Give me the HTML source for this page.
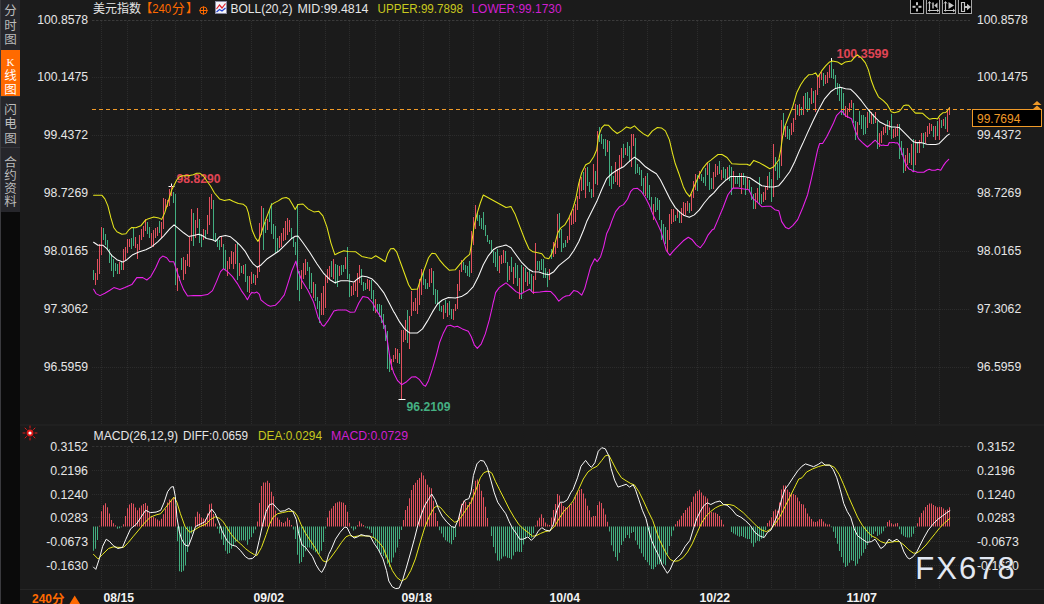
<!DOCTYPE html>
<html><head><meta charset="utf-8"><title>chart</title>
<style>html,body{margin:0;padding:0;background:#1b1b1b;width:1044px;height:604px;overflow:hidden}svg{display:block}text{font-family:"Liberation Sans",sans-serif}text.cjk{font-family:"Liberation Sans","Noto Sans CJK SC",sans-serif}</style>
</head><body>
<svg width="1044" height="604" viewBox="0 0 1044 604" font-family="Liberation Sans, sans-serif" shape-rendering="auto">
<rect width="1044" height="604" fill="#1b1b1b"/>
<rect x="20" y="590" width="1024" height="14" fill="#191919"/>
<rect x="0" y="0" width="20" height="604" fill="#0a0a0a"/>
<rect x="0" y="0" width="1" height="604" fill="#3a3a3e"/>
<rect x="1" y="0" width="19" height="212" fill="#26262b"/>
<rect x="1" y="50" width="19" height="46" fill="#ff6a00"/>
<rect x="1" y="147" width="19" height="1" fill="#34343a"/>
<rect x="1" y="96" width="19" height="1" fill="#34343a"/>
<text class="cjk" x="4.25" y="15.25" fill="#bcbcbc" font-size="12.5" text-anchor="start">分</text>
<text class="cjk" x="4.25" y="29.75" fill="#bcbcbc" font-size="12.5" text-anchor="start">时</text>
<text class="cjk" x="4.25" y="44.25" fill="#bcbcbc" font-size="12.5" text-anchor="start">图</text>
<text x="10.5" y="65.5" fill="#ffffff" font-size="11" text-anchor="middle" font-weight="normal" style="font-family:'Liberation Serif',serif">K</text>
<text class="cjk" x="4.25" y="79.75" fill="#ffffff" font-size="12.5" text-anchor="start">线</text>
<text class="cjk" x="4.25" y="93.75" fill="#ffffff" font-size="12.5" text-anchor="start">图</text>
<text class="cjk" x="4.25" y="113.75" fill="#bcbcbc" font-size="12.5" text-anchor="start">闪</text>
<text class="cjk" x="4.25" y="128.25" fill="#bcbcbc" font-size="12.5" text-anchor="start">电</text>
<text class="cjk" x="4.25" y="142.75" fill="#bcbcbc" font-size="12.5" text-anchor="start">图</text>
<text class="cjk" x="4.25" y="166.75" fill="#bcbcbc" font-size="12.5" text-anchor="start">合</text>
<text class="cjk" x="4.25" y="179.75" fill="#bcbcbc" font-size="12.5" text-anchor="start">约</text>
<text class="cjk" x="4.25" y="193.25" fill="#bcbcbc" font-size="12.5" text-anchor="start">资</text>
<text class="cjk" x="4.25" y="206.25" fill="#bcbcbc" font-size="12.5" text-anchor="start">料</text>
<path d="M92 20.5H970" stroke="#3a3a3a" stroke-dasharray="2.5 1.5" fill="none"/><path d="M92 77.5H970" stroke="#2c2c2c" stroke-dasharray="1 1" fill="none"/><path d="M92 135.5H970" stroke="#2c2c2c" stroke-dasharray="1 1" fill="none"/><path d="M92 193.5H970" stroke="#2c2c2c" stroke-dasharray="1 1" fill="none"/><path d="M92 251.5H970" stroke="#2c2c2c" stroke-dasharray="1 1" fill="none"/><path d="M92 309.5H970" stroke="#2c2c2c" stroke-dasharray="1 1" fill="none"/><path d="M92 367.5H970" stroke="#2c2c2c" stroke-dasharray="1 1" fill="none"/><path d="M101.5 21V424" stroke="#2c2c2c" stroke-dasharray="1 1" fill="none"/><path d="M101.5 447V590" stroke="#2c2c2c" stroke-dasharray="1 1" fill="none"/><path d="M127.5 21V424" stroke="#2c2c2c" stroke-dasharray="1 1" fill="none"/><path d="M127.5 447V590" stroke="#2c2c2c" stroke-dasharray="1 1" fill="none"/><path d="M151.5 21V424" stroke="#2c2c2c" stroke-dasharray="1 1" fill="none"/><path d="M151.5 447V590" stroke="#2c2c2c" stroke-dasharray="1 1" fill="none"/><path d="M175.5 21V424" stroke="#2c2c2c" stroke-dasharray="1 1" fill="none"/><path d="M175.5 447V590" stroke="#2c2c2c" stroke-dasharray="1 1" fill="none"/><path d="M201.5 21V424" stroke="#2c2c2c" stroke-dasharray="1 1" fill="none"/><path d="M201.5 447V590" stroke="#2c2c2c" stroke-dasharray="1 1" fill="none"/><path d="M225.5 21V424" stroke="#2c2c2c" stroke-dasharray="1 1" fill="none"/><path d="M225.5 447V590" stroke="#2c2c2c" stroke-dasharray="1 1" fill="none"/><path d="M251.5 21V424" stroke="#2c2c2c" stroke-dasharray="1 1" fill="none"/><path d="M251.5 447V590" stroke="#2c2c2c" stroke-dasharray="1 1" fill="none"/><path d="M275.5 21V424" stroke="#2c2c2c" stroke-dasharray="1 1" fill="none"/><path d="M275.5 447V590" stroke="#2c2c2c" stroke-dasharray="1 1" fill="none"/><path d="M299.5 21V424" stroke="#2c2c2c" stroke-dasharray="1 1" fill="none"/><path d="M299.5 447V590" stroke="#2c2c2c" stroke-dasharray="1 1" fill="none"/><path d="M325.5 21V424" stroke="#2c2c2c" stroke-dasharray="1 1" fill="none"/><path d="M325.5 447V590" stroke="#2c2c2c" stroke-dasharray="1 1" fill="none"/><path d="M349.5 21V424" stroke="#2c2c2c" stroke-dasharray="1 1" fill="none"/><path d="M349.5 447V590" stroke="#2c2c2c" stroke-dasharray="1 1" fill="none"/><path d="M375.5 21V424" stroke="#2c2c2c" stroke-dasharray="1 1" fill="none"/><path d="M375.5 447V590" stroke="#2c2c2c" stroke-dasharray="1 1" fill="none"/><path d="M399.5 21V424" stroke="#2c2c2c" stroke-dasharray="1 1" fill="none"/><path d="M399.5 447V590" stroke="#2c2c2c" stroke-dasharray="1 1" fill="none"/><path d="M423.5 21V424" stroke="#2c2c2c" stroke-dasharray="1 1" fill="none"/><path d="M423.5 447V590" stroke="#2c2c2c" stroke-dasharray="1 1" fill="none"/><path d="M449.5 21V424" stroke="#2c2c2c" stroke-dasharray="1 1" fill="none"/><path d="M449.5 447V590" stroke="#2c2c2c" stroke-dasharray="1 1" fill="none"/><path d="M473.5 21V424" stroke="#2c2c2c" stroke-dasharray="1 1" fill="none"/><path d="M473.5 447V590" stroke="#2c2c2c" stroke-dasharray="1 1" fill="none"/><path d="M499.5 21V424" stroke="#2c2c2c" stroke-dasharray="1 1" fill="none"/><path d="M499.5 447V590" stroke="#2c2c2c" stroke-dasharray="1 1" fill="none"/><path d="M523.5 21V424" stroke="#2c2c2c" stroke-dasharray="1 1" fill="none"/><path d="M523.5 447V590" stroke="#2c2c2c" stroke-dasharray="1 1" fill="none"/><path d="M547.5 21V424" stroke="#2c2c2c" stroke-dasharray="1 1" fill="none"/><path d="M547.5 447V590" stroke="#2c2c2c" stroke-dasharray="1 1" fill="none"/><path d="M573.5 21V424" stroke="#2c2c2c" stroke-dasharray="1 1" fill="none"/><path d="M573.5 447V590" stroke="#2c2c2c" stroke-dasharray="1 1" fill="none"/><path d="M597.5 21V424" stroke="#2c2c2c" stroke-dasharray="1 1" fill="none"/><path d="M597.5 447V590" stroke="#2c2c2c" stroke-dasharray="1 1" fill="none"/><path d="M623.5 21V424" stroke="#2c2c2c" stroke-dasharray="1 1" fill="none"/><path d="M623.5 447V590" stroke="#2c2c2c" stroke-dasharray="1 1" fill="none"/><path d="M647.5 21V424" stroke="#2c2c2c" stroke-dasharray="1 1" fill="none"/><path d="M647.5 447V590" stroke="#2c2c2c" stroke-dasharray="1 1" fill="none"/><path d="M671.5 21V424" stroke="#2c2c2c" stroke-dasharray="1 1" fill="none"/><path d="M671.5 447V590" stroke="#2c2c2c" stroke-dasharray="1 1" fill="none"/><path d="M697.5 21V424" stroke="#2c2c2c" stroke-dasharray="1 1" fill="none"/><path d="M697.5 447V590" stroke="#2c2c2c" stroke-dasharray="1 1" fill="none"/><path d="M721.5 21V424" stroke="#2c2c2c" stroke-dasharray="1 1" fill="none"/><path d="M721.5 447V590" stroke="#2c2c2c" stroke-dasharray="1 1" fill="none"/><path d="M747.5 21V424" stroke="#2c2c2c" stroke-dasharray="1 1" fill="none"/><path d="M747.5 447V590" stroke="#2c2c2c" stroke-dasharray="1 1" fill="none"/><path d="M771.5 21V424" stroke="#2c2c2c" stroke-dasharray="1 1" fill="none"/><path d="M771.5 447V590" stroke="#2c2c2c" stroke-dasharray="1 1" fill="none"/><path d="M795.5 21V424" stroke="#2c2c2c" stroke-dasharray="1 1" fill="none"/><path d="M795.5 447V590" stroke="#2c2c2c" stroke-dasharray="1 1" fill="none"/><path d="M819.5 21V424" stroke="#2c2c2c" stroke-dasharray="1 1" fill="none"/><path d="M819.5 447V590" stroke="#2c2c2c" stroke-dasharray="1 1" fill="none"/><path d="M843.5 21V424" stroke="#2c2c2c" stroke-dasharray="1 1" fill="none"/><path d="M843.5 447V590" stroke="#2c2c2c" stroke-dasharray="1 1" fill="none"/><path d="M867.5 21V424" stroke="#2c2c2c" stroke-dasharray="1 1" fill="none"/><path d="M867.5 447V590" stroke="#2c2c2c" stroke-dasharray="1 1" fill="none"/><path d="M891.5 21V424" stroke="#2c2c2c" stroke-dasharray="1 1" fill="none"/><path d="M891.5 447V590" stroke="#2c2c2c" stroke-dasharray="1 1" fill="none"/><path d="M915.5 21V424" stroke="#2c2c2c" stroke-dasharray="1 1" fill="none"/><path d="M915.5 447V590" stroke="#2c2c2c" stroke-dasharray="1 1" fill="none"/><path d="M939.5 21V424" stroke="#2c2c2c" stroke-dasharray="1 1" fill="none"/><path d="M939.5 447V590" stroke="#2c2c2c" stroke-dasharray="1 1" fill="none"/><path d="M92 446.5H970" stroke="#333333" stroke-dasharray="2.5 1.5" fill="none"/><path d="M92 470.5H970" stroke="#2c2c2c" stroke-dasharray="1 1" fill="none"/><path d="M92 494.5H970" stroke="#2c2c2c" stroke-dasharray="1 1" fill="none"/><path d="M92 517.5H970" stroke="#2c2c2c" stroke-dasharray="1 1" fill="none"/><path d="M92 541.5H970" stroke="#2c2c2c" stroke-dasharray="1 1" fill="none"/><path d="M92 565.5H970" stroke="#2c2c2c" stroke-dasharray="1 1" fill="none"/><path d="M20 425H1044" stroke="#232323" stroke-width="1.6" fill="none"/><path d="M20 589.5H1044" stroke="#262626" fill="none"/>
<text x="37.2" y="24.1" fill="#e6e6e6" font-size="12" text-anchor="start" font-weight="normal" textLength="50.8" lengthAdjust="spacingAndGlyphs">100.8578</text>
<text x="977" y="24.1" fill="#e6e6e6" font-size="12" text-anchor="start" font-weight="normal" textLength="50.8" lengthAdjust="spacingAndGlyphs">100.8578</text>
<text x="37.2" y="81.1" fill="#e6e6e6" font-size="12" text-anchor="start" font-weight="normal" textLength="50.8" lengthAdjust="spacingAndGlyphs">100.1475</text>
<text x="977" y="81.1" fill="#e6e6e6" font-size="12" text-anchor="start" font-weight="normal" textLength="50.8" lengthAdjust="spacingAndGlyphs">100.1475</text>
<text x="43.8" y="139.1" fill="#e6e6e6" font-size="12" text-anchor="start" font-weight="normal" textLength="44.2" lengthAdjust="spacingAndGlyphs">99.4372</text>
<text x="977" y="139.1" fill="#e6e6e6" font-size="12" text-anchor="start" font-weight="normal" textLength="44.2" lengthAdjust="spacingAndGlyphs">99.4372</text>
<text x="43.8" y="197.1" fill="#e6e6e6" font-size="12" text-anchor="start" font-weight="normal" textLength="44.2" lengthAdjust="spacingAndGlyphs">98.7269</text>
<text x="977" y="197.1" fill="#e6e6e6" font-size="12" text-anchor="start" font-weight="normal" textLength="44.2" lengthAdjust="spacingAndGlyphs">98.7269</text>
<text x="43.8" y="255.1" fill="#e6e6e6" font-size="12" text-anchor="start" font-weight="normal" textLength="44.2" lengthAdjust="spacingAndGlyphs">98.0165</text>
<text x="977" y="255.1" fill="#e6e6e6" font-size="12" text-anchor="start" font-weight="normal" textLength="44.2" lengthAdjust="spacingAndGlyphs">98.0165</text>
<text x="43.8" y="313.1" fill="#e6e6e6" font-size="12" text-anchor="start" font-weight="normal" textLength="44.2" lengthAdjust="spacingAndGlyphs">97.3062</text>
<text x="977" y="313.1" fill="#e6e6e6" font-size="12" text-anchor="start" font-weight="normal" textLength="44.2" lengthAdjust="spacingAndGlyphs">97.3062</text>
<text x="43.8" y="371.1" fill="#e6e6e6" font-size="12" text-anchor="start" font-weight="normal" textLength="44.2" lengthAdjust="spacingAndGlyphs">96.5959</text>
<text x="977" y="371.1" fill="#e6e6e6" font-size="12" text-anchor="start" font-weight="normal" textLength="44.2" lengthAdjust="spacingAndGlyphs">96.5959</text>
<text x="50.2" y="450.5" fill="#e6e6e6" font-size="12" text-anchor="start" font-weight="normal" textLength="37.8" lengthAdjust="spacingAndGlyphs">0.3152</text>
<text x="977" y="450.5" fill="#e6e6e6" font-size="12" text-anchor="start" font-weight="normal" textLength="37.8" lengthAdjust="spacingAndGlyphs">0.3152</text>
<text x="50.2" y="474.5" fill="#e6e6e6" font-size="12" text-anchor="start" font-weight="normal" textLength="37.8" lengthAdjust="spacingAndGlyphs">0.2196</text>
<text x="977" y="474.5" fill="#e6e6e6" font-size="12" text-anchor="start" font-weight="normal" textLength="37.8" lengthAdjust="spacingAndGlyphs">0.2196</text>
<text x="50.2" y="498.5" fill="#e6e6e6" font-size="12" text-anchor="start" font-weight="normal" textLength="37.8" lengthAdjust="spacingAndGlyphs">0.1240</text>
<text x="977" y="498.5" fill="#e6e6e6" font-size="12" text-anchor="start" font-weight="normal" textLength="37.8" lengthAdjust="spacingAndGlyphs">0.1240</text>
<text x="50.2" y="521.5" fill="#e6e6e6" font-size="12" text-anchor="start" font-weight="normal" textLength="37.8" lengthAdjust="spacingAndGlyphs">0.0283</text>
<text x="977" y="521.5" fill="#e6e6e6" font-size="12" text-anchor="start" font-weight="normal" textLength="37.8" lengthAdjust="spacingAndGlyphs">0.0283</text>
<text x="46.2" y="545.5" fill="#e6e6e6" font-size="12" text-anchor="start" font-weight="normal" textLength="41.8" lengthAdjust="spacingAndGlyphs">-0.0673</text>
<text x="977" y="545.5" fill="#e6e6e6" font-size="12" text-anchor="start" font-weight="normal" textLength="41.8" lengthAdjust="spacingAndGlyphs">-0.0673</text>
<text x="46.2" y="569.5" fill="#e6e6e6" font-size="12" text-anchor="start" font-weight="normal" textLength="41.8" lengthAdjust="spacingAndGlyphs">-0.1630</text>
<text x="977" y="569.5" fill="#e6e6e6" font-size="12" text-anchor="start" font-weight="normal" textLength="41.8" lengthAdjust="spacingAndGlyphs">-0.1630</text>
<text x="176.5" y="183" fill="#e04555" font-size="12" text-anchor="start" font-weight="bold" textLength="44" lengthAdjust="spacingAndGlyphs">98.8290</text>
<path d="M168.5 186.5H174.5M171.5 183.5V189.5" stroke="#ffffff" fill="none"/>
<text x="836.5" y="58" fill="#e04555" font-size="12" text-anchor="start" font-weight="bold" textLength="52" lengthAdjust="spacingAndGlyphs">100.3599</text>
<path d="M831.5 58V62" stroke="#ffffff" fill="none"/>
<text x="406.5" y="411" fill="#45b083" font-size="12" text-anchor="start" font-weight="bold" textLength="44" lengthAdjust="spacingAndGlyphs">96.2109</text>
<path d="M398.5 399.5H405.5M401.5 397V399.5" stroke="#ffffff" fill="none"/>
<path d="M93 270h1V280h-1ZM103 228h1V240h-1ZM105 234h1V245h-1ZM107 240h1V250h-1ZM109 249h1V263h-1ZM111 254h1V271h-1ZM113 259h1V277h-1ZM115 263h1V271h-1ZM117 264h1V274h-1ZM121 262h1V270h-1ZM131 238h1V249h-1ZM133 228h1V246h-1ZM147 222h1V234h-1ZM149 227h1V238h-1ZM159 221h1V233h-1ZM173 192h1V203h-1ZM175 194h1V285h-1ZM179 276h1V281h-1ZM181 258h1V270h-1ZM193 213h1V246h-1ZM199 219h1V243h-1ZM201 234h1V247h-1ZM205 230h1V239h-1ZM213 200h1V240h-1ZM215 233h1V242h-1ZM217 239h1V247h-1ZM219 240h1V250h-1ZM223 244h1V269h-1ZM225 250h1V270h-1ZM237 243h1V280h-1ZM241 266h1V273h-1ZM245 264h1V282h-1ZM247 276h1V292h-1ZM253 274h1V283h-1ZM263 208h1V250h-1ZM265 222h1V233h-1ZM269 210h1V222h-1ZM271 203h1V234h-1ZM273 224h1V239h-1ZM275 226h1V253h-1ZM277 238h1V252h-1ZM291 228h1V239h-1ZM293 238h1V247h-1ZM295 242h1V255h-1ZM297 204h1V290h-1ZM299 271h1V301h-1ZM307 262h1V271h-1ZM309 267h1V289h-1ZM311 273h1V293h-1ZM315 284h1V301h-1ZM317 297h1V309h-1ZM319 301h1V323h-1ZM331 261h1V277h-1ZM335 264h1V284h-1ZM337 265h1V287h-1ZM341 265h1V275h-1ZM343 265h1V272h-1ZM347 247h1V279h-1ZM349 274h1V297h-1ZM361 269h1V285h-1ZM363 282h1V291h-1ZM365 283h1V290h-1ZM371 280h1V299h-1ZM373 290h1V311h-1ZM377 304h1V312h-1ZM379 304h1V317h-1ZM381 305h1V323h-1ZM383 314h1V329h-1ZM385 325h1V341h-1ZM387 331h1V369h-1ZM389 354h1V372h-1ZM399 353h1V364h-1ZM407 310h1V343h-1ZM423 272h1V285h-1ZM425 279h1V289h-1ZM427 283h1V289h-1ZM433 271h1V295h-1ZM435 289h1V304h-1ZM437 290h1V305h-1ZM439 303h1V311h-1ZM441 306h1V312h-1ZM445 300h1V313h-1ZM449 301h1V315h-1ZM451 309h1V319h-1ZM463 262h1V270h-1ZM465 265h1V273h-1ZM467 266h1V276h-1ZM469 261h1V277h-1ZM477 213h1V221h-1ZM479 215h1V226h-1ZM481 218h1V229h-1ZM483 212h1V230h-1ZM485 225h1V236h-1ZM487 235h1V242h-1ZM489 240h1V244h-1ZM491 240h1V253h-1ZM493 251h1V263h-1ZM495 252h1V267h-1ZM497 249h1V271h-1ZM505 251h1V263h-1ZM507 262h1V282h-1ZM511 257h1V272h-1ZM515 263h1V278h-1ZM517 265h1V286h-1ZM521 265h1V299h-1ZM525 268h1V282h-1ZM529 270h1V284h-1ZM531 274h1V292h-1ZM537 261h1V270h-1ZM539 261h1V271h-1ZM541 259h1V270h-1ZM543 259h1V278h-1ZM545 268h1V278h-1ZM547 272h1V287h-1ZM551 249h1V259h-1ZM559 213h1V238h-1ZM561 229h1V252h-1ZM563 243h1V248h-1ZM565 240h1V247h-1ZM583 172h1V190h-1ZM587 167h1V186h-1ZM589 182h1V192h-1ZM591 189h1V198h-1ZM595 171h1V184h-1ZM599 127h1V142h-1ZM601 134h1V144h-1ZM603 139h1V149h-1ZM605 139h1V156h-1ZM609 141h1V186h-1ZM611 166h1V189h-1ZM613 176h1V184h-1ZM623 144h1V158h-1ZM627 142h1V156h-1ZM629 146h1V162h-1ZM635 138h1V174h-1ZM637 164h1V173h-1ZM639 167h1V175h-1ZM641 170h1V186h-1ZM643 178h1V194h-1ZM647 173h1V198h-1ZM649 185h1V200h-1ZM651 197h1V212h-1ZM655 197h1V212h-1ZM657 198h1V210h-1ZM659 200h1V220h-1ZM661 220h1V240h-1ZM663 224h1V240h-1ZM665 227h1V244h-1ZM675 215h1V221h-1ZM679 211h1V223h-1ZM689 203h1V213h-1ZM697 175h1V191h-1ZM701 174h1V181h-1ZM703 177h1V183h-1ZM705 168h1V186h-1ZM709 163h1V190h-1ZM711 178h1V189h-1ZM719 161h1V174h-1ZM723 167h1V178h-1ZM725 169h1V180h-1ZM729 165h1V181h-1ZM731 167h1V195h-1ZM735 176h1V184h-1ZM737 177h1V184h-1ZM739 173h1V187h-1ZM743 173h1V185h-1ZM745 178h1V195h-1ZM749 180h1V192h-1ZM751 187h1V200h-1ZM753 194h1V209h-1ZM759 177h1V204h-1ZM761 194h1V204h-1ZM769 172h1V188h-1ZM771 179h1V202h-1ZM775 157h1V171h-1ZM777 163h1V180h-1ZM779 159h1V178h-1ZM783 113h1V135h-1ZM787 126h1V139h-1ZM789 129h1V140h-1ZM797 105h1V115h-1ZM801 107h1V115h-1ZM805 93h1V109h-1ZM807 92h1V112h-1ZM809 98h1V109h-1ZM813 91h1V103h-1ZM823 73h1V86h-1ZM831 61h1V78h-1ZM833 69h1V79h-1ZM835 75h1V88h-1ZM837 83h1V95h-1ZM839 84h1V101h-1ZM841 88h1V115h-1ZM843 93h1V115h-1ZM853 103h1V123h-1ZM855 121h1V140h-1ZM859 111h1V125h-1ZM861 115h1V129h-1ZM863 115h1V135h-1ZM865 117h1V134h-1ZM869 110h1V123h-1ZM873 114h1V124h-1ZM877 121h1V149h-1ZM887 120h1V135h-1ZM891 114h1V139h-1ZM899 124h1V159h-1ZM901 141h1V155h-1ZM903 148h1V173h-1ZM909 153h1V163h-1ZM913 139h1V172h-1ZM917 143h1V153h-1ZM923 133h1V148h-1ZM933 126h1V137h-1ZM937 121h1V136h-1ZM941 120h1V128h-1ZM945 117h1V129h-1Z" fill="#42ae80" shape-rendering="crispEdges"/>
<path d="M95 273h1V285h-1ZM97 259h1V280h-1ZM99 244h1V274h-1ZM101 227h1V255h-1ZM119 262h1V274h-1ZM123 249h1V270h-1ZM125 247h1V260h-1ZM127 239h1V253h-1ZM129 239h1V247h-1ZM135 237h1V248h-1ZM137 244h1V259h-1ZM139 235h1V250h-1ZM141 229h1V240h-1ZM143 226h1V237h-1ZM145 219h1V231h-1ZM151 233h1V246h-1ZM153 230h1V247h-1ZM155 228h1V238h-1ZM157 227h1V236h-1ZM161 222h1V238h-1ZM163 198h1V229h-1ZM165 199h1V211h-1ZM167 200h1V207h-1ZM169 189h1V206h-1ZM171 186h1V196h-1ZM177 268h1V291h-1ZM183 257h1V280h-1ZM185 260h1V274h-1ZM187 254h1V266h-1ZM189 237h1V267h-1ZM191 209h1V241h-1ZM195 220h1V238h-1ZM197 208h1V228h-1ZM203 229h1V240h-1ZM207 215h1V234h-1ZM209 197h1V225h-1ZM211 194h1V209h-1ZM221 236h1V247h-1ZM227 261h1V276h-1ZM229 257h1V269h-1ZM231 251h1V264h-1ZM233 252h1V269h-1ZM235 244h1V264h-1ZM239 263h1V276h-1ZM243 265h1V274h-1ZM249 276h1V293h-1ZM251 272h1V284h-1ZM255 275h1V285h-1ZM257 266h1V278h-1ZM259 223h1V272h-1ZM261 206h1V235h-1ZM267 219h1V230h-1ZM279 236h1V248h-1ZM281 233h1V247h-1ZM283 228h1V241h-1ZM285 221h1V240h-1ZM287 218h1V235h-1ZM289 220h1V232h-1ZM301 270h1V289h-1ZM303 263h1V279h-1ZM305 259h1V275h-1ZM313 282h1V298h-1ZM321 293h1V315h-1ZM323 286h1V315h-1ZM325 276h1V308h-1ZM327 269h1V283h-1ZM329 266h1V279h-1ZM333 259h1V279h-1ZM339 266h1V276h-1ZM345 257h1V269h-1ZM351 286h1V296h-1ZM353 283h1V295h-1ZM355 280h1V291h-1ZM357 273h1V297h-1ZM359 265h1V283h-1ZM367 279h1V289h-1ZM369 280h1V291h-1ZM375 299h1V313h-1ZM391 359h1V370h-1ZM393 355h1V362h-1ZM395 348h1V359h-1ZM397 349h1V363h-1ZM401 330h1V399h-1ZM403 330h1V342h-1ZM405 320h1V340h-1ZM409 316h1V349h-1ZM411 291h1V316h-1ZM413 302h1V311h-1ZM415 298h1V311h-1ZM417 289h1V314h-1ZM419 279h1V305h-1ZM421 269h1V295h-1ZM429 269h1V287h-1ZM431 268h1V283h-1ZM443 305h1V319h-1ZM447 303h1V317h-1ZM453 309h1V320h-1ZM455 304h1V311h-1ZM457 284h1V309h-1ZM459 270h1V291h-1ZM461 260h1V272h-1ZM471 231h1V273h-1ZM473 217h1V245h-1ZM475 205h1V229h-1ZM499 256h1V273h-1ZM501 255h1V264h-1ZM503 250h1V263h-1ZM509 266h1V280h-1ZM513 267h1V284h-1ZM519 278h1V299h-1ZM523 267h1V292h-1ZM527 272h1V286h-1ZM533 276h1V294h-1ZM535 243h1V280h-1ZM549 269h1V280h-1ZM553 242h1V257h-1ZM555 243h1V254h-1ZM557 214h1V248h-1ZM567 236h1V243h-1ZM569 217h1V240h-1ZM571 212h1V225h-1ZM573 209h1V224h-1ZM575 204h1V222h-1ZM577 196h1V210h-1ZM579 179h1V199h-1ZM581 177h1V191h-1ZM585 168h1V198h-1ZM593 164h1V197h-1ZM597 131h1V185h-1ZM607 140h1V152h-1ZM615 162h1V182h-1ZM617 170h1V185h-1ZM619 155h1V187h-1ZM621 148h1V168h-1ZM625 148h1V155h-1ZM631 134h1V167h-1ZM633 134h1V146h-1ZM645 176h1V196h-1ZM653 204h1V220h-1ZM667 230h1V252h-1ZM669 214h1V240h-1ZM671 209h1V224h-1ZM673 209h1V222h-1ZM677 210h1V218h-1ZM681 208h1V223h-1ZM683 202h1V216h-1ZM685 203h1V215h-1ZM687 201h1V211h-1ZM691 194h1V211h-1ZM693 181h1V198h-1ZM695 174h1V190h-1ZM699 171h1V179h-1ZM707 162h1V175h-1ZM713 172h1V189h-1ZM715 164h1V177h-1ZM717 166h1V175h-1ZM721 170h1V180h-1ZM727 167h1V180h-1ZM733 171h1V188h-1ZM741 173h1V194h-1ZM747 177h1V190h-1ZM755 193h1V209h-1ZM757 188h1V202h-1ZM763 192h1V202h-1ZM765 187h1V200h-1ZM767 176h1V190h-1ZM773 144h1V197h-1ZM781 120h1V166h-1ZM785 126h1V137h-1ZM791 123h1V135h-1ZM793 118h1V132h-1ZM795 104h1V120h-1ZM799 104h1V116h-1ZM803 96h1V115h-1ZM811 88h1V104h-1ZM815 90h1V112h-1ZM817 76h1V95h-1ZM819 74h1V88h-1ZM821 72h1V80h-1ZM825 75h1V84h-1ZM827 72h1V83h-1ZM829 65h1V78h-1ZM845 106h1V117h-1ZM847 108h1V118h-1ZM849 103h1V112h-1ZM851 100h1V108h-1ZM857 122h1V135h-1ZM867 112h1V128h-1ZM871 112h1V124h-1ZM875 112h1V123h-1ZM879 133h1V147h-1ZM881 131h1V143h-1ZM883 127h1V135h-1ZM885 125h1V133h-1ZM889 121h1V130h-1ZM893 129h1V138h-1ZM895 128h1V137h-1ZM897 124h1V136h-1ZM905 155h1V171h-1ZM907 148h1V165h-1ZM911 144h1V165h-1ZM915 140h1V165h-1ZM919 140h1V153h-1ZM921 133h1V143h-1ZM925 132h1V143h-1ZM927 126h1V137h-1ZM929 123h1V134h-1ZM931 124h1V131h-1ZM935 126h1V140h-1ZM939 118h1V140h-1ZM943 119h1V126h-1ZM947 109h1V132h-1ZM949 107h1V115h-1Z" fill="#e2505e" shape-rendering="crispEdges"/>
<path d="M93.6 289.2L96.0 293.6L100.0 295.6L104.9 293.2L109.9 290.2L113.9 287.6L119.9 289.6L124.9 287.6L131.8 284.6L136.8 277.6L142.8 277.6L146.8 280.0L150.8 276.6L155.7 267.7L159.7 258.7L162.7 256.1L166.7 257.7L169.7 261.7L173.7 261.7L176.7 270.7L180.7 282.6L183.6 289.6L187.6 296.0L193.6 295.6L201.6 295.6L207.5 294.6L212.5 290.6L216.5 281.6L220.5 271.6L223.5 268.7L227.5 271.6L232.5 276.6L237.4 283.6L241.4 290.6L245.2 296.0L247.4 299.7L249.9 294.9L251.9 292.4L254.4 292.9L256.9 292.1L259.4 294.4L260.9 299.8L263.9 302.3L267.9 305.3L270.3 306.3L275.3 305.3L279.8 300.8L284.3 294.9L287.8 283.9L291.8 271.0L295.9 261.1L298.1 271.3L302.0 280.7L308.0 290.6L312.9 300.6L313.9 303.0L317.9 316.9L321.9 324.9L323.9 326.3L327.9 320.9L333.9 310.9L337.8 309.9L345.8 309.9L350.2 312.3L354.8 311.9L358.8 303.0L362.8 296.6L367.7 297.4L372.7 303.0L376.7 310.9L380.7 316.9L384.7 326.9L387.7 342.8L390.6 362.7L393.6 372.7L397.6 380.7L401.6 384.7L406.6 381.7L411.6 377.1L415.5 376.7L419.5 379.7L423.5 385.1L425.5 386.2L428.5 380.7L432.5 368.7L436.5 354.8L439.5 342.8L443.4 332.9L447.0 325.9L450.4 325.3L454.4 326.9L457.4 326.3L462.4 328.9L468.3 331.3L471.3 336.8L474.3 344.8L477.3 348.4L481.3 343.8L485.3 333.9L489.3 319.9L492.3 307.0L493.2 302.6L494.2 299.0L495.6 292.6L499.2 287.6L503.2 284.7L506.0 282.9L511.0 287.0L516.0 291.6L520.9 294.0L524.9 291.6L529.5 289.2L532.9 292.6L539.9 292.0L545.8 291.2L550.8 291.6L554.8 295.6L558.8 301.2L562.8 297.6L565.8 296.0L569.4 295.6L573.7 290.6L577.7 291.6L581.7 295.2L584.7 288.6L587.7 277.7L590.7 266.7L594.7 258.7L597.2 261.7L600.6 256.7L603.6 246.8L606.6 233.8L609.6 227.5L611.6 221.6L615.6 211.6L619.6 206.6L623.5 204.6L627.5 199.3L630.5 191.7L633.5 188.7L637.5 188.3L641.5 191.7L645.5 197.7L649.4 205.6L653.4 215.6L657.4 223.6L660.7 230.7L663.4 239.8L666.4 250.8L669.8 255.3L673.4 250.8L678.3 245.8L683.3 240.8L688.3 237.2L692.3 239.8L696.3 244.8L700.3 247.8L704.2 242.8L708.2 234.8L712.2 229.8L714.0 229.0L718.0 219.6L723.0 207.7L727.9 194.7L732.9 188.1L737.9 188.1L743.9 188.9L748.9 189.7L752.9 198.7L756.8 201.7L761.8 206.7L766.2 206.3L770.8 206.3L774.8 209.7L778.8 210.7L781.7 221.6L785.7 227.6L788.7 228.8L792.7 225.6L797.7 219.6L802.7 207.7L807.6 194.7L811.6 177.8L814.6 163.8L817.6 149.9L819.6 143.5L822.6 143.5L826.6 136.9L830.6 129.0L833.5 123.0L836.5 115.7L841.5 110.7L845.5 115.7L851.5 118.7L854.5 128.6L858.4 138.6L862.4 142.6L867.4 147.0L871.4 143.6L872.5 142.5L875.2 140.2L876.5 141.5L878.2 143.5L881.0 145.4L883.3 145.0L884.9 145.6L887.9 145.4L889.3 142.6L890.4 142.8L892.9 142.5L894.3 142.6L895.4 143.0L897.4 142.7L898.9 144.9L900.9 149.9L902.9 155.9L904.9 161.9L907.4 166.9L909.3 169.3L911.3 169.8L913.3 171.8L914.8 171.1L917.3 172.3L919.8 172.3L923.8 172.3L926.8 170.3L929.3 169.3L931.8 170.3L935.2 170.3L937.7 169.3L940.7 170.3L943.2 165.9L945.7 162.4L948.7 159.4" stroke="#ea22ea" stroke-width="1.05" fill="none" stroke-linejoin="round" stroke-linecap="round"/>
<path d="M93.6 195.3L102.0 195.3L104.9 198.9L107.9 205.9L110.9 217.9L113.9 227.8L116.9 231.8L121.9 234.2L125.9 233.8L128.9 229.8L131.8 227.4L135.8 227.8L140.8 225.8L144.8 220.8L147.8 218.9L153.8 216.9L158.7 217.9L161.7 219.4L164.7 212.9L168.7 199.9L171.7 190.0L174.7 184.0L176.7 180.0L179.2 177.0L182.5 175.8L188.3 175.8L193.3 174.7L196.7 173.3L200.0 173.3L203.3 175.8L206.7 180.8L210.5 186.0L214.5 193.0L219.5 198.9L224.5 200.5L229.5 199.5L233.4 201.5L238.4 203.5L243.4 204.3L246.4 206.9L248.4 212.9L250.4 222.8L252.4 230.8L255.4 237.8L258.0 241.4L259.7 237.8L262.3 229.8L265.3 220.8L268.3 212.9L271.3 204.9L274.3 202.9L278.3 200.9L282.3 198.3L286.2 197.5L289.2 198.9L292.2 203.9L295.2 209.5L298.0 204.4L303.0 204.0L308.0 208.9L313.9 211.9L318.9 211.3L322.9 215.9L326.9 226.9L330.9 242.8L334.9 254.8L338.8 252.8L343.8 250.8L347.8 251.4L355.8 251.8L361.8 256.4L367.7 257.8L371.7 258.4L375.7 255.8L380.7 258.8L385.3 261.7L387.7 253.8L390.6 248.8L393.6 248.4L396.6 251.8L400.6 262.7L404.6 273.7L408.6 284.7L411.6 289.6L417.5 289.0L420.5 279.7L424.5 268.7L428.5 257.8L431.9 253.2L435.5 253.8L439.5 259.8L444.4 265.7L449.4 270.3L455.4 269.7L460.4 263.7L465.4 257.8L469.7 254.4L471.7 242.8L474.3 224.9L477.3 212.9L480.3 203.0L483.3 195.0L506.0 207.5L511.0 206.5L515.0 213.9L519.9 226.9L524.9 239.8L528.9 248.8L532.9 251.8L537.9 252.8L541.9 253.8L544.9 257.7L548.8 258.7L551.8 253.8L554.8 243.8L557.8 232.8L560.8 227.9L564.8 224.9L568.8 217.9L572.7 208.9L575.7 199.0L578.7 183.7L581.7 172.8L585.7 164.8L589.7 162.8L593.7 156.8L596.7 149.8L598.6 135.9L601.6 127.9L604.6 124.9L608.6 125.3L612.6 129.9L617.2 133.5L621.6 130.9L626.5 126.9L630.5 128.3L634.5 125.9L638.5 129.9L643.5 133.9L647.9 136.3L652.4 130.9L657.4 127.5L661.4 127.9L665.4 130.9L669.4 139.9L672.4 152.8L675.3 163.8L679.3 174.8L683.3 186.7L686.3 192.7L689.7 196.7L692.3 190.7L695.3 183.7L699.3 174.8L703.2 167.8L707.2 162.8L711.2 159.8L714.0 157.6L718.0 154.5L722.0 154.5L727.0 157.5L731.9 163.8L739.9 164.2L746.9 164.2L749.9 165.4L753.8 160.4L758.8 162.4L764.8 165.8L769.8 168.8L773.8 166.8L778.8 159.8L780.7 149.9L782.7 135.9L784.7 126.6L788.7 116.7L792.7 106.7L796.7 92.8L800.7 84.8L804.7 78.8L808.6 74.8L812.6 74.4L815.6 72.9L818.0 76.8L821.6 70.9L825.6 65.9L829.6 61.9L832.5 60.9L837.5 61.9L841.5 64.5L845.5 61.9L851.5 60.9L854.5 57.3L857.4 54.9L861.4 57.9L865.4 62.9L868.4 69.9L871.4 80.8L874.4 88.8L878.4 96.8L883.3 100.7L887.3 104.7L891.3 111.7L894.3 112.7L899.0 111.5L901.0 109.5L903.5 105.8L906.0 105.0L908.5 105.2L910.9 108.0L913.4 111.0L915.4 113.1L918.9 113.1L922.4 113.2L925.9 116.4L929.4 119.2L932.9 118.4L935.8 118.4L937.6 118.9L939.8 115.4L942.8 112.8L945.8 112.5L947.8 110.0L949.3 108.0" stroke="#e6e61c" stroke-width="1.05" fill="none" stroke-linejoin="round" stroke-linecap="round"/>
<path d="M93.6 242.2L98.0 245.3L103.0 245.3L106.9 248.7L111.9 255.7L116.9 259.7L122.9 262.1L126.9 259.7L132.8 254.7L138.8 252.1L145.8 249.7L151.8 246.7L157.7 241.8L163.7 235.8L169.7 228.8L174.1 224.8L177.7 227.8L183.6 232.8L188.6 236.4L193.6 235.4L198.6 234.2L202.6 235.8L206.6 238.4L212.5 239.8L215.5 241.4L219.5 236.8L225.5 235.4L230.5 236.8L235.4 240.8L240.4 245.7L245.4 251.7L249.4 258.7L253.4 264.1L257.4 267.3L261.3 264.7L267.3 258.7L273.3 254.7L279.3 250.7L285.2 244.8L291.2 238.8L295.2 236.2L298.0 236.0L303.0 242.8L310.0 252.8L316.9 263.7L323.9 273.7L329.9 279.7L334.9 282.7L340.8 280.7L347.8 280.7L353.8 282.1L357.8 278.7L361.8 276.1L366.7 276.7L371.7 278.7L377.7 284.7L383.7 292.6L389.6 303.8L393.6 311.6L394.6 312.9L399.6 321.9L404.6 328.9L409.6 332.9L417.5 332.9L422.5 328.9L427.5 320.9L432.5 311.9L437.5 304.0L442.4 300.0L448.4 297.4L455.4 298.0L461.4 296.6L467.3 293.0L473.3 286.6L478.3 276.7L483.3 264.7L488.3 255.8L493.2 249.8L497.2 247.2L503.2 245.8L506.0 245.0L511.0 247.8L516.0 254.8L521.9 262.7L527.9 268.7L532.9 271.7L538.9 272.1L543.9 273.7L548.8 274.7L553.8 271.7L558.8 265.7L563.8 261.7L568.8 257.7L573.7 250.8L578.7 241.8L583.7 229.8L586.7 221.6L591.7 211.6L596.7 201.6L601.6 189.7L606.6 178.7L611.6 173.8L617.6 169.8L623.5 166.8L628.5 162.2L634.5 157.2L639.5 160.8L645.5 166.8L651.4 170.8L656.4 173.8L660.4 179.7L665.4 189.7L670.4 199.7L675.3 207.6L680.3 212.6L684.3 215.6L689.3 217.3L694.3 214.9L699.3 209.9L704.2 203.0L709.2 197.0L714.0 192.6L719.0 186.7L725.0 180.8L730.9 176.4L737.9 176.4L743.9 176.4L749.9 177.8L755.8 181.8L761.8 185.7L767.8 186.7L773.8 187.1L778.8 185.7L783.7 179.8L789.7 171.8L794.7 161.8L799.7 149.9L802.7 143.6L807.6 132.6L813.6 119.7L818.6 109.7L824.6 98.8L830.6 91.8L835.5 88.4L840.5 87.2L845.5 88.8L850.5 89.2L855.5 93.8L861.4 100.7L867.4 108.7L873.4 115.7L879.4 121.7L885.3 124.7L891.3 127.0L894.3 127.0L899.0 127.4L902.0 130.4L906.0 134.4L909.9 138.4L913.4 141.8L915.9 142.6L919.4 142.6L922.9 143.0L926.9 144.3L930.9 144.5L935.8 144.5L938.8 143.8L941.8 140.8L944.8 137.9L947.3 135.4L949.3 134.1" stroke="#fafafa" stroke-width="1.05" fill="none" stroke-linejoin="round" stroke-linecap="round"/>
<path d="M93 526.5h1V550.8h-1ZM95 526.5h1V548.8h-1ZM97 526.5h1V540.0h-1ZM117 526.5h1V528.8h-1ZM119 526.5h1V528.3h-1ZM121 526.5h1V527.3h-1ZM177 526.5h1V541.3h-1ZM179 526.5h1V571.2h-1ZM181 526.5h1V572.0h-1ZM183 526.5h1V570.8h-1ZM185 526.5h1V565.4h-1ZM187 526.5h1V551.9h-1ZM189 526.5h1V543.3h-1ZM191 526.5h1V533.6h-1ZM217 526.5h1V528.7h-1ZM219 526.5h1V533.6h-1ZM221 526.5h1V539.6h-1ZM223 526.5h1V545.0h-1ZM225 526.5h1V550.7h-1ZM227 526.5h1V553.8h-1ZM229 526.5h1V552.9h-1ZM231 526.5h1V548.8h-1ZM233 526.5h1V545.0h-1ZM235 526.5h1V542.2h-1ZM237 526.5h1V541.1h-1ZM239 526.5h1V540.6h-1ZM241 526.5h1V540.4h-1ZM243 526.5h1V540.3h-1ZM245 526.5h1V540.4h-1ZM247 526.5h1V544.8h-1ZM249 526.5h1V539.2h-1ZM251 526.5h1V537.0h-1ZM253 526.5h1V533.3h-1ZM255 526.5h1V529.5h-1ZM293 526.5h1V529.6h-1ZM295 526.5h1V539.0h-1ZM297 526.5h1V554.8h-1ZM299 526.5h1V563.6h-1ZM301 526.5h1V562.1h-1ZM303 526.5h1V556.9h-1ZM305 526.5h1V551.2h-1ZM307 526.5h1V547.4h-1ZM309 526.5h1V547.6h-1ZM311 526.5h1V548.8h-1ZM313 526.5h1V550.3h-1ZM315 526.5h1V552.3h-1ZM317 526.5h1V553.4h-1ZM319 526.5h1V553.8h-1ZM321 526.5h1V550.7h-1ZM323 526.5h1V542.0h-1ZM325 526.5h1V528.4h-1ZM351 526.5h1V528.3h-1ZM353 526.5h1V530.6h-1ZM355 526.5h1V529.2h-1ZM365 526.5h1V527.5h-1ZM367 526.5h1V528.2h-1ZM369 526.5h1V529.4h-1ZM371 526.5h1V533.1h-1ZM373 526.5h1V538.1h-1ZM375 526.5h1V543.1h-1ZM377 526.5h1V548.0h-1ZM379 526.5h1V552.0h-1ZM381 526.5h1V554.0h-1ZM383 526.5h1V556.0h-1ZM385 526.5h1V558.6h-1ZM387 526.5h1V563.7h-1ZM389 526.5h1V566.8h-1ZM391 526.5h1V562.6h-1ZM393 526.5h1V557.6h-1ZM395 526.5h1V552.6h-1ZM397 526.5h1V547.6h-1ZM399 526.5h1V538.9h-1ZM401 526.5h1V530.1h-1ZM439 526.5h1V530.3h-1ZM441 526.5h1V533.6h-1ZM443 526.5h1V537.3h-1ZM445 526.5h1V540.3h-1ZM447 526.5h1V541.6h-1ZM449 526.5h1V542.7h-1ZM451 526.5h1V544.3h-1ZM453 526.5h1V540.1h-1ZM455 526.5h1V537.1h-1ZM491 526.5h1V535.9h-1ZM493 526.5h1V546.9h-1ZM495 526.5h1V553.3h-1ZM497 526.5h1V560.4h-1ZM499 526.5h1V560.8h-1ZM501 526.5h1V558.7h-1ZM503 526.5h1V556.6h-1ZM505 526.5h1V556.3h-1ZM507 526.5h1V557.8h-1ZM509 526.5h1V557.9h-1ZM511 526.5h1V559.3h-1ZM513 526.5h1V555.4h-1ZM515 526.5h1V552.1h-1ZM517 526.5h1V551.5h-1ZM519 526.5h1V552.0h-1ZM521 526.5h1V552.0h-1ZM523 526.5h1V544.6h-1ZM525 526.5h1V539.3h-1ZM527 526.5h1V535.8h-1ZM529 526.5h1V536.9h-1ZM531 526.5h1V537.8h-1ZM533 526.5h1V533.3h-1ZM609 526.5h1V531.6h-1ZM611 526.5h1V545.2h-1ZM613 526.5h1V551.2h-1ZM615 526.5h1V557.1h-1ZM617 526.5h1V560.7h-1ZM619 526.5h1V552.7h-1ZM621 526.5h1V545.1h-1ZM623 526.5h1V541.3h-1ZM625 526.5h1V538.0h-1ZM627 526.5h1V535.1h-1ZM629 526.5h1V538.3h-1ZM631 526.5h1V533.0h-1ZM633 526.5h1V531.9h-1ZM635 526.5h1V540.4h-1ZM637 526.5h1V544.7h-1ZM639 526.5h1V548.8h-1ZM641 526.5h1V553.2h-1ZM643 526.5h1V556.7h-1ZM645 526.5h1V559.9h-1ZM647 526.5h1V562.3h-1ZM649 526.5h1V565.2h-1ZM651 526.5h1V568.9h-1ZM653 526.5h1V569.2h-1ZM655 526.5h1V566.9h-1ZM657 526.5h1V564.4h-1ZM659 526.5h1V564.3h-1ZM661 526.5h1V564.7h-1ZM663 526.5h1V563.8h-1ZM665 526.5h1V565.3h-1ZM667 526.5h1V554.8h-1ZM669 526.5h1V545.9h-1ZM671 526.5h1V536.2h-1ZM673 526.5h1V530.4h-1ZM731 526.5h1V532.0h-1ZM733 526.5h1V533.5h-1ZM735 526.5h1V534.6h-1ZM737 526.5h1V535.8h-1ZM739 526.5h1V536.8h-1ZM741 526.5h1V535.9h-1ZM743 526.5h1V537.1h-1ZM745 526.5h1V538.3h-1ZM747 526.5h1V539.0h-1ZM749 526.5h1V539.0h-1ZM751 526.5h1V543.3h-1ZM753 526.5h1V546.7h-1ZM755 526.5h1V542.8h-1ZM757 526.5h1V540.7h-1ZM759 526.5h1V541.3h-1ZM761 526.5h1V538.7h-1ZM763 526.5h1V536.9h-1ZM765 526.5h1V530.1h-1ZM831 526.5h1V527.2h-1ZM833 526.5h1V531.8h-1ZM835 526.5h1V537.9h-1ZM837 526.5h1V543.7h-1ZM839 526.5h1V551.0h-1ZM841 526.5h1V557.0h-1ZM843 526.5h1V562.7h-1ZM845 526.5h1V567.1h-1ZM847 526.5h1V565.8h-1ZM849 526.5h1V562.7h-1ZM851 526.5h1V560.2h-1ZM853 526.5h1V561.1h-1ZM855 526.5h1V565.8h-1ZM857 526.5h1V563.7h-1ZM859 526.5h1V558.8h-1ZM861 526.5h1V555.7h-1ZM863 526.5h1V552.8h-1ZM865 526.5h1V548.9h-1ZM867 526.5h1V544.9h-1ZM869 526.5h1V541.2h-1ZM871 526.5h1V537.8h-1ZM873 526.5h1V534.1h-1ZM875 526.5h1V531.4h-1ZM877 526.5h1V536.1h-1ZM879 526.5h1V534.8h-1ZM881 526.5h1V533.4h-1ZM883 526.5h1V531.2h-1ZM885 526.5h1V527.5h-1ZM899 526.5h1V529.3h-1ZM901 526.5h1V534.2h-1ZM903 526.5h1V535.7h-1ZM905 526.5h1V536.9h-1ZM907 526.5h1V537.6h-1ZM909 526.5h1V537.6h-1ZM911 526.5h1V536.8h-1ZM913 526.5h1V533.7h-1ZM915 526.5h1V527.6h-1Z" fill="#42ae80"/>
<path d="M99 525.8h1V526.5h-1ZM101 511.3h1V526.5h-1ZM103 505.2h1V526.5h-1ZM105 503.2h1V526.5h-1ZM107 507.2h1V526.5h-1ZM109 513.5h1V526.5h-1ZM111 519.9h1V526.5h-1ZM113 523.3h1V526.5h-1ZM115 525.3h1V526.5h-1ZM123 524.3h1V526.5h-1ZM125 516.0h1V526.5h-1ZM127 508.3h1V526.5h-1ZM129 504.4h1V526.5h-1ZM131 503.0h1V526.5h-1ZM133 503.7h1V526.5h-1ZM135 507.6h1V526.5h-1ZM137 510.2h1V526.5h-1ZM139 507.8h1V526.5h-1ZM141 505.6h1V526.5h-1ZM143 504.0h1V526.5h-1ZM145 502.9h1V526.5h-1ZM147 505.7h1V526.5h-1ZM149 512.4h1V526.5h-1ZM151 516.1h1V526.5h-1ZM153 517.1h1V526.5h-1ZM155 518.3h1V526.5h-1ZM157 519.4h1V526.5h-1ZM159 520.7h1V526.5h-1ZM161 518.7h1V526.5h-1ZM163 514.3h1V526.5h-1ZM165 508.8h1V526.5h-1ZM167 502.6h1V526.5h-1ZM169 499.4h1V526.5h-1ZM171 499.6h1V526.5h-1ZM173 497.0h1V526.5h-1ZM175 506.3h1V526.5h-1ZM195 516.7h1V526.5h-1ZM197 511.7h1V526.5h-1ZM199 513.7h1V526.5h-1ZM201 517.4h1V526.5h-1ZM203 518.6h1V526.5h-1ZM205 519.0h1V526.5h-1ZM207 513.5h1V526.5h-1ZM209 504.3h1V526.5h-1ZM211 503.5h1V526.5h-1ZM213 513.9h1V526.5h-1ZM215 523.5h1V526.5h-1ZM257 521.6h1V526.5h-1ZM259 503.1h1V526.5h-1ZM261 486.1h1V526.5h-1ZM263 482.5h1V526.5h-1ZM265 482.4h1V526.5h-1ZM267 480.8h1V526.5h-1ZM269 482.9h1V526.5h-1ZM271 491.7h1V526.5h-1ZM273 496.2h1V526.5h-1ZM275 510.5h1V526.5h-1ZM277 517.5h1V526.5h-1ZM279 519.7h1V526.5h-1ZM281 522.0h1V526.5h-1ZM283 523.0h1V526.5h-1ZM285 521.6h1V526.5h-1ZM287 517.7h1V526.5h-1ZM289 519.9h1V526.5h-1ZM291 524.9h1V526.5h-1ZM327 517.6h1V526.5h-1ZM329 510.7h1V526.5h-1ZM331 508.5h1V526.5h-1ZM333 505.9h1V526.5h-1ZM335 503.3h1V526.5h-1ZM337 502.3h1V526.5h-1ZM339 501.6h1V526.5h-1ZM341 502.3h1V526.5h-1ZM343 502.8h1V526.5h-1ZM345 504.9h1V526.5h-1ZM347 511.8h1V526.5h-1ZM349 522.8h1V526.5h-1ZM357 525.2h1V526.5h-1ZM359 521.3h1V526.5h-1ZM361 523.4h1V526.5h-1ZM363 525.1h1V526.5h-1ZM403 520.1h1V526.5h-1ZM405 510.1h1V526.5h-1ZM407 506.1h1V526.5h-1ZM409 498.2h1V526.5h-1ZM411 490.1h1V526.5h-1ZM413 485.0h1V526.5h-1ZM415 482.8h1V526.5h-1ZM417 480.1h1V526.5h-1ZM419 477.9h1V526.5h-1ZM421 472.6h1V526.5h-1ZM423 475.4h1V526.5h-1ZM425 479.2h1V526.5h-1ZM427 484.8h1V526.5h-1ZM429 487.2h1V526.5h-1ZM431 488.2h1V526.5h-1ZM433 500.8h1V526.5h-1ZM435 513.1h1V526.5h-1ZM437 520.9h1V526.5h-1ZM459 514.3h1V526.5h-1ZM461 503.7h1V526.5h-1ZM463 500.7h1V526.5h-1ZM465 501.7h1V526.5h-1ZM467 504.9h1V526.5h-1ZM469 501.9h1V526.5h-1ZM471 497.4h1V526.5h-1ZM473 489.0h1V526.5h-1ZM475 480.7h1V526.5h-1ZM477 479.6h1V526.5h-1ZM479 483.9h1V526.5h-1ZM481 490.7h1V526.5h-1ZM483 497.2h1V526.5h-1ZM485 506.7h1V526.5h-1ZM487 518.0h1V526.5h-1ZM535 525.6h1V526.5h-1ZM537 520.4h1V526.5h-1ZM539 517.7h1V526.5h-1ZM541 514.2h1V526.5h-1ZM543 518.1h1V526.5h-1ZM545 522.5h1V526.5h-1ZM547 524.6h1V526.5h-1ZM549 525.0h1V526.5h-1ZM551 517.5h1V526.5h-1ZM553 509.9h1V526.5h-1ZM555 504.0h1V526.5h-1ZM557 494.0h1V526.5h-1ZM559 495.6h1V526.5h-1ZM561 503.0h1V526.5h-1ZM563 505.9h1V526.5h-1ZM565 507.1h1V526.5h-1ZM567 507.2h1V526.5h-1ZM569 505.2h1V526.5h-1ZM571 503.9h1V526.5h-1ZM573 501.7h1V526.5h-1ZM575 496.7h1V526.5h-1ZM577 491.7h1V526.5h-1ZM579 489.7h1V526.5h-1ZM581 489.0h1V526.5h-1ZM583 493.5h1V526.5h-1ZM585 498.5h1V526.5h-1ZM587 505.8h1V526.5h-1ZM589 510.2h1V526.5h-1ZM591 517.2h1V526.5h-1ZM593 516.1h1V526.5h-1ZM595 516.1h1V526.5h-1ZM597 504.9h1V526.5h-1ZM599 501.6h1V526.5h-1ZM601 503.1h1V526.5h-1ZM603 508.4h1V526.5h-1ZM605 514.4h1V526.5h-1ZM607 521.8h1V526.5h-1ZM675 524.2h1V526.5h-1ZM677 520.9h1V526.5h-1ZM679 519.5h1V526.5h-1ZM681 515.8h1V526.5h-1ZM683 512.9h1V526.5h-1ZM685 510.0h1V526.5h-1ZM687 507.7h1V526.5h-1ZM689 506.2h1V526.5h-1ZM691 501.9h1V526.5h-1ZM693 496.5h1V526.5h-1ZM695 493.4h1V526.5h-1ZM697 491.1h1V526.5h-1ZM699 489.8h1V526.5h-1ZM701 492.5h1V526.5h-1ZM703 495.4h1V526.5h-1ZM705 496.4h1V526.5h-1ZM707 498.6h1V526.5h-1ZM709 507.5h1V526.5h-1ZM711 511.9h1V526.5h-1ZM713 512.6h1V526.5h-1ZM715 512.8h1V526.5h-1ZM717 514.0h1V526.5h-1ZM719 516.1h1V526.5h-1ZM721 519.7h1V526.5h-1ZM723 524.5h1V526.5h-1ZM767 523.1h1V526.5h-1ZM769 520.5h1V526.5h-1ZM771 517.2h1V526.5h-1ZM773 511.2h1V526.5h-1ZM775 509.4h1V526.5h-1ZM777 510.7h1V526.5h-1ZM779 502.6h1V526.5h-1ZM781 489.4h1V526.5h-1ZM783 485.6h1V526.5h-1ZM785 485.5h1V526.5h-1ZM787 489.4h1V526.5h-1ZM789 492.1h1V526.5h-1ZM791 493.4h1V526.5h-1ZM793 494.0h1V526.5h-1ZM795 495.1h1V526.5h-1ZM797 497.6h1V526.5h-1ZM799 501.2h1V526.5h-1ZM801 504.0h1V526.5h-1ZM803 504.5h1V526.5h-1ZM805 508.2h1V526.5h-1ZM807 513.4h1V526.5h-1ZM809 516.6h1V526.5h-1ZM811 518.9h1V526.5h-1ZM813 521.4h1V526.5h-1ZM815 521.9h1V526.5h-1ZM817 521.3h1V526.5h-1ZM819 519.2h1V526.5h-1ZM821 519.0h1V526.5h-1ZM823 521.5h1V526.5h-1ZM825 523.6h1V526.5h-1ZM827 524.5h1V526.5h-1ZM829 524.3h1V526.5h-1ZM887 522.1h1V526.5h-1ZM889 520.2h1V526.5h-1ZM891 523.2h1V526.5h-1ZM893 524.5h1V526.5h-1ZM895 523.6h1V526.5h-1ZM897 523.0h1V526.5h-1ZM917 523.2h1V526.5h-1ZM919 517.3h1V526.5h-1ZM921 513.1h1V526.5h-1ZM923 510.5h1V526.5h-1ZM925 507.1h1V526.5h-1ZM927 504.9h1V526.5h-1ZM929 503.4h1V526.5h-1ZM931 503.6h1V526.5h-1ZM933 505.0h1V526.5h-1ZM935 506.2h1V526.5h-1ZM937 507.2h1V526.5h-1ZM939 506.8h1V526.5h-1ZM941 507.0h1V526.5h-1ZM943 508.6h1V526.5h-1ZM945 510.2h1V526.5h-1ZM947 509.6h1V526.5h-1ZM949 507.3h1V526.5h-1Z" fill="#e2505e"/>
<path d="M93.5 554.3L98.1 558.9L102.7 554.3L108.5 548.5L113.2 546.9L119.0 547.4L123.6 547.4L128.2 542.7L132.9 536.9L138.7 530.0L144.5 523.0L150.3 517.2L156.1 514.9L160.7 513.7L165.3 507.9L170.0 502.2L173.9 497.1L176.9 502.2L180.4 513.7L185.0 526.5L189.7 532.3L194.3 530.0L200.1 526.5L205.9 524.2L210.5 519.5L215.2 516.8L219.8 518.4L223.3 521.9L226.8 527.6L231.4 534.6L236.0 539.9L240.7 543.9L245.3 548.5L249.9 552.0L254.6 554.8L256.9 555.5L261.5 547.4L266.2 534.6L269.6 524.2L273.1 517.2L277.7 513.7L282.4 512.6L288.2 511.4L294.0 511.4L297.5 516.1L300.9 524.2L305.6 533.4L310.2 540.4L314.8 547.4L319.5 555.5L322.9 560.8L326.4 562.0L329.9 558.9L336.6 549.7L341.3 542.7L345.9 536.9L349.4 535.3L354.0 536.9L358.7 535.8L363.3 535.8L369.1 536.2L373.7 537.6L378.4 541.6L383.0 547.4L387.6 558.9L392.3 570.5L396.9 577.5L401.5 581.0L406.2 578.6L410.8 570.5L415.4 558.9L420.1 542.7L424.7 527.6L429.4 516.1L434.0 507.9L437.5 505.6L440.9 507.9L445.6 513.7L450.2 518.4L454.8 522.3L458.3 520.7L461.8 516.1L466.4 509.1L471.1 502.2L475.7 490.6L480.3 477.8L483.8 472.7L488.5 470.9L491.9 473.2L495.4 481.3L500.0 490.6L504.7 499.8L509.3 509.1L514.0 517.2L518.6 524.2L523.2 528.8L527.9 532.3L532.5 536.2L536.0 535.8L540.6 533.4L545.2 531.6L549.9 530.7L554.5 526.5L559.2 518.4L563.8 511.4L568.4 506.8L573.1 501.0L578.6 489.4L583.3 479.0L587.9 472.0L592.5 468.5L597.2 466.2L601.8 460.4L605.3 455.8L608.8 455.1L612.2 461.6L616.9 470.9L621.5 477.8L626.2 480.8L630.8 483.6L634.3 484.8L638.9 491.7L643.5 501.0L648.2 511.4L652.8 520.7L656.3 531.1L659.8 540.4L663.2 547.4L666.7 554.3L670.2 559.4L673.7 561.3L678.3 560.8L682.9 557.8L687.6 552.0L692.2 543.9L696.8 533.4L701.5 523.0L706.1 516.1L710.8 511.4L715.4 507.9L720.0 505.6L724.7 504.5L729.3 504.5L733.9 505.6L738.6 509.1L743.2 512.6L747.8 517.2L752.5 521.9L757.1 526.5L761.7 530.0L766.4 531.6L771.0 528.8L775.7 523.0L780.3 516.1L784.9 506.8L789.6 497.5L794.2 488.2L798.8 479.0L802.0 477.8L806.6 472.0L812.4 469.0L818.2 466.7L824.0 465.1L829.8 465.1L834.5 467.4L839.1 474.3L843.7 484.8L848.4 496.4L853.0 506.8L857.6 517.2L862.3 525.3L866.9 531.1L871.5 535.8L876.2 538.1L880.8 541.6L885.4 543.2L890.1 542.3L894.7 541.6L899.4 541.6L904.0 545.0L908.6 549.7L913.3 553.1L916.7 553.1L921.4 549.7L926.0 545.0L930.6 539.2L935.3 533.4L939.9 527.6L944.5 523.0L949.9 518.4" stroke="#e6e61c" stroke-width="1.0" fill="none" stroke-linejoin="round" stroke-linecap="round"/>
<path d="M93.5 567.1L95.8 569.4L99.3 558.9L102.7 546.2L106.2 539.2L109.7 541.6L113.2 545.5L117.8 548.5L122.5 547.4L125.9 539.2L130.6 528.8L136.4 524.2L141.0 517.2L145.6 510.3L150.3 512.6L156.1 512.1L160.7 510.3L164.2 502.2L167.6 491.7L171.1 487.1L173.4 486.6L175.3 496.4L176.9 517.2L179.2 531.1L181.6 539.2L185.0 545.0L188.5 546.2L192.0 536.9L195.5 526.5L200.1 524.2L204.7 521.9L208.2 514.9L211.7 509.1L215.2 513.7L218.6 521.9L222.1 531.1L226.8 540.4L231.4 545.0L236.0 546.2L240.7 550.8L245.3 556.6L248.8 558.9L252.3 558.5L255.7 555.5L259.2 540.4L262.7 524.2L266.2 511.4L269.6 504.5L273.1 503.8L276.6 507.9L280.1 511.4L284.7 510.7L288.9 508.4L292.8 511.4L296.3 519.5L298.6 533.4L302.1 545.0L305.6 547.4L309.0 552.0L312.5 556.6L316.0 564.7L319.5 570.5L321.8 572.4L325.3 565.9L328.7 554.3L331.1 549.7L335.5 539.2L340.1 532.3L344.7 527.0L347.1 527.6L350.5 534.6L354.0 538.1L357.5 536.9L361.0 534.6L365.6 535.8L370.2 536.2L373.7 542.7L378.4 549.7L383.0 558.9L386.5 570.5L388.8 581.0L392.3 586.8L395.7 588.6L399.2 588.1L402.7 579.8L406.2 568.2L410.8 552.0L414.3 539.2L417.8 525.3L421.2 514.9L424.7 505.6L428.2 499.8L431.7 494.0L435.1 499.8L438.6 509.1L442.1 516.1L446.7 521.9L451.4 526.5L454.8 527.6L458.3 519.5L461.8 505.6L465.3 499.8L468.8 498.7L471.1 491.7L473.4 475.5L476.9 463.9L480.3 460.4L483.8 461.1L487.3 467.4L490.8 480.1L494.3 492.9L497.7 502.2L502.4 509.1L505.8 513.7L509.3 521.9L512.8 528.8L516.3 533.4L519.7 539.2L523.2 539.2L527.9 536.9L531.3 540.4L534.8 536.9L538.3 531.1L541.8 527.6L545.2 530.0L549.9 531.1L553.4 524.2L556.8 510.3L560.3 502.2L563.8 502.2L567.3 499.8L570.7 492.9L573.1 489.4L577.5 477.8L581.0 466.2L585.6 460.4L589.1 465.1L591.4 467.4L594.9 462.7L598.3 451.2L601.8 447.7L605.3 448.8L608.8 455.8L611.1 468.5L614.6 480.1L618.0 487.1L621.5 485.9L626.2 484.3L629.6 487.1L633.1 484.8L635.4 489.4L638.9 499.8L642.4 510.3L645.9 518.4L648.2 527.6L651.6 540.4L655.1 548.5L658.6 555.5L662.1 564.7L665.6 570.5L667.4 573.3L670.2 569.4L673.7 561.3L677.1 557.8L680.6 554.3L685.3 546.2L689.9 540.4L693.4 528.8L696.8 518.4L700.3 511.4L703.8 505.6L707.3 502.8L710.8 504.5L715.4 502.2L720.0 501.0L723.5 504.5L727.0 505.2L731.6 509.1L736.3 514.9L740.9 517.2L745.5 520.7L750.2 525.3L754.8 532.3L759.4 535.8L764.1 537.6L767.5 532.3L771.0 530.0L774.5 521.9L778.0 513.7L781.5 499.8L784.9 489.4L788.4 484.8L793.0 477.8L797.7 470.9L802.0 466.2L805.5 463.9L809.0 465.1L813.6 466.7L818.2 464.4L821.7 462.1L825.2 465.1L829.8 465.1L833.3 469.7L836.8 477.8L840.2 489.4L843.7 503.3L847.2 511.4L850.7 517.2L854.2 528.8L857.6 535.8L862.3 539.2L866.9 542.3L871.5 541.6L875.0 539.2L877.3 542.7L880.8 548.5L884.3 546.2L888.9 539.2L892.4 541.6L897.0 539.2L900.5 542.7L904.0 552.0L907.5 557.8L909.8 558.9L913.3 556.6L916.7 552.0L920.2 545.0L923.7 538.1L928.3 530.0L933.0 524.2L937.6 519.5L942.2 516.1L946.9 512.6L949.9 510.7" stroke="#fafafa" stroke-width="1.0" fill="none" stroke-linejoin="round" stroke-linecap="round"/>
<text class="cjk" x="93" y="13" fill="#e6e6e6" font-size="12" text-anchor="start" textLength="48" lengthAdjust="spacing">美元指数</text>
<text class="cjk" x="140.3" y="13" fill="#ff6a00" font-size="12" text-anchor="start">【</text>
<text x="152.2" y="13" fill="#ff6a00" font-size="12" text-anchor="start" font-weight="normal" textLength="19" lengthAdjust="spacingAndGlyphs">240</text>
<text class="cjk" x="171.8" y="13.3" fill="#ff6a00" font-size="13" text-anchor="start">分</text>
<text class="cjk" x="186" y="13" fill="#ff6a00" font-size="12" text-anchor="start">】</text>
<g stroke="#ff6a00" fill="none" stroke-width="1"><circle cx="203.5" cy="10.5" r="3.6"/><path d="M199.5 10.5H207.5M203.5 6.5V14.5"/></g>
<g><rect x="215.5" y="1.5" width="11" height="12" fill="#f4f4f8" stroke="#8a8aa0"/><path d="M216.5 9l3-4 2.5 3 3.5-4.5" stroke="#e0202a" fill="none" stroke-width="1.2"/><path d="M216.5 12l3-2.5 2.5 1.5 3.5-3" stroke="#2040d0" fill="none" stroke-width="1.2"/></g>
<text x="230.5" y="13" fill="#e6e6e6" font-size="12" text-anchor="start" font-weight="normal" textLength="62" lengthAdjust="spacingAndGlyphs">BOLL(20,2)</text>
<text x="297.5" y="13" fill="#e6e6e6" font-size="12" text-anchor="start" font-weight="normal" textLength="71" lengthAdjust="spacingAndGlyphs">MID:99.4814</text>
<text x="377.5" y="13" fill="#c8c81e" font-size="12" text-anchor="start" font-weight="normal" textLength="85.5" lengthAdjust="spacingAndGlyphs">UPPER:99.7898</text>
<text x="471.5" y="13" fill="#d01fd0" font-size="12" text-anchor="start" font-weight="normal" textLength="90" lengthAdjust="spacingAndGlyphs">LOWER:99.1730</text>
<text x="93.5" y="439.5" fill="#e6e6e6" font-size="12" text-anchor="start" font-weight="normal" textLength="84.5" lengthAdjust="spacingAndGlyphs">MACD(26,12,9)</text>
<text x="183" y="439.5" fill="#e6e6e6" font-size="12" text-anchor="start" font-weight="normal" textLength="65" lengthAdjust="spacingAndGlyphs">DIFF:0.0659</text>
<text x="258" y="439.5" fill="#c8c81e" font-size="12" text-anchor="start" font-weight="normal" textLength="64" lengthAdjust="spacingAndGlyphs">DEA:0.0294</text>
<text x="331" y="439.5" fill="#d01fd0" font-size="12" text-anchor="start" font-weight="normal" textLength="77" lengthAdjust="spacingAndGlyphs">MACD:0.0729</text>
<g stroke="#e01818" stroke-width="1" fill="none"><path d="M34.60 433.00L37.40 433.00"/><path d="M33.25 436.25L35.23 438.23"/><path d="M30.00 437.60L30.00 440.40"/><path d="M26.75 436.25L24.77 438.23"/><path d="M25.40 433.00L22.60 433.00"/><path d="M26.75 429.75L24.77 427.77"/><path d="M30.00 428.40L30.00 425.60"/><path d="M33.25 429.75L35.23 427.77"/></g><circle cx="30" cy="433" r="3.4" fill="#e01818"/><circle cx="30" cy="433" r="1.6" fill="#ffffff"/>
<rect x="910.5" y="-0.5" width="13" height="14" fill="#000" stroke="#a8a8a8"/>
<rect x="926.5" y="-0.5" width="13" height="14" fill="#000" stroke="#a8a8a8"/>
<rect x="942.5" y="-0.5" width="13" height="14" fill="#000" stroke="#a8a8a8"/>
<rect x="958.5" y="-0.5" width="13" height="14" fill="#000" stroke="#a8a8a8"/>
<g fill="#c4c4c4"><rect x="912.5" y="5.8" width="3" height="2"/><rect x="918.5" y="5.8" width="3" height="2"/><rect x="916" y="2.2" width="2" height="3"/><rect x="916" y="8.5" width="2" height="3"/></g>
<g stroke="#c4c4c4" fill="#c4c4c4" stroke-width="1.2"><path d="M929.5 2V11.5M928 10.5H938.5" fill="none"/><path d="M928 3.5L929.5 1.5L931 3.5M937 9L938.8 10.5L937 12" fill="none" stroke-width="0.9"/><path d="M933 2.5V8.5" fill="none" stroke-width="1.5"/><path d="M937.5 2.5V8.5L934.2 5.5Z" stroke="none"/></g>
<g stroke="#c4c4c4" fill="#c4c4c4" stroke-width="1.2"><path d="M945.5 2V11.5M944 10.5H954.5" fill="none"/><path d="M944 3.5L945.5 1.5L947 3.5M953 9L954.8 10.5L953 12" fill="none" stroke-width="0.9"/><path d="M948.5 2V9L954 5.5Z" stroke="none"/></g>
<g stroke="#c4c4c4" fill="#c4c4c4" stroke-width="1.2"><path d="M961.5 2.5V11.5H964.5V2.5Z" fill="none"/><path d="M964.5 7H968" fill="none" stroke-width="2"/><path d="M967 3.8V10.2L971 7Z" stroke="none"/></g>
<path d="M92 109.5H972" stroke="#f09a28" stroke-dasharray="4 3" fill="none"/>
<rect x="972.5" y="109.5" width="69" height="17" fill="#000" stroke="#f09a28"/>
<text x="977" y="122.5" fill="#f09a28" font-size="12" text-anchor="start" font-weight="normal">99.7694</text>
<path d="M1032.5 105L1037 101L1041.5 105ZM1032.5 109.5L1037 105.5L1041.5 109.5Z" fill="#f09a28"/>
<text x="32" y="603" fill="#ff6a00" font-size="12" text-anchor="start" font-weight="bold" textLength="20" lengthAdjust="spacingAndGlyphs">240</text>
<text class="cjk" x="52" y="603.5" fill="#ff6a00" font-size="12.5" text-anchor="start" font-weight="bold">分</text>
<path d="M69.5 604L74.7 595.5L80 604Z" fill="#ff6a00"/>
<text x="103.5" y="602" fill="#f2f2f2" font-size="12" text-anchor="start" font-weight="bold" textLength="30.5" lengthAdjust="spacingAndGlyphs">08/15</text>
<text x="253.5" y="602" fill="#f2f2f2" font-size="12" text-anchor="start" font-weight="bold" textLength="30.5" lengthAdjust="spacingAndGlyphs">09/02</text>
<text x="401.5" y="602" fill="#f2f2f2" font-size="12" text-anchor="start" font-weight="bold" textLength="30.5" lengthAdjust="spacingAndGlyphs">09/18</text>
<text x="549.5" y="602" fill="#f2f2f2" font-size="12" text-anchor="start" font-weight="bold" textLength="30.5" lengthAdjust="spacingAndGlyphs">10/04</text>
<text x="699.5" y="602" fill="#f2f2f2" font-size="12" text-anchor="start" font-weight="bold" textLength="30.5" lengthAdjust="spacingAndGlyphs">10/22</text>
<text x="846.5" y="602" fill="#f2f2f2" font-size="12" text-anchor="start" font-weight="bold" textLength="30.5" lengthAdjust="spacingAndGlyphs">11/07</text>
<text x="915.3" y="579.3" fill="#e2e8f3" font-size="31" letter-spacing="2.0" style="paint-order:stroke" stroke="#1b1b1b" stroke-width="0.8">FX678</text>
</svg>
</body></html>
